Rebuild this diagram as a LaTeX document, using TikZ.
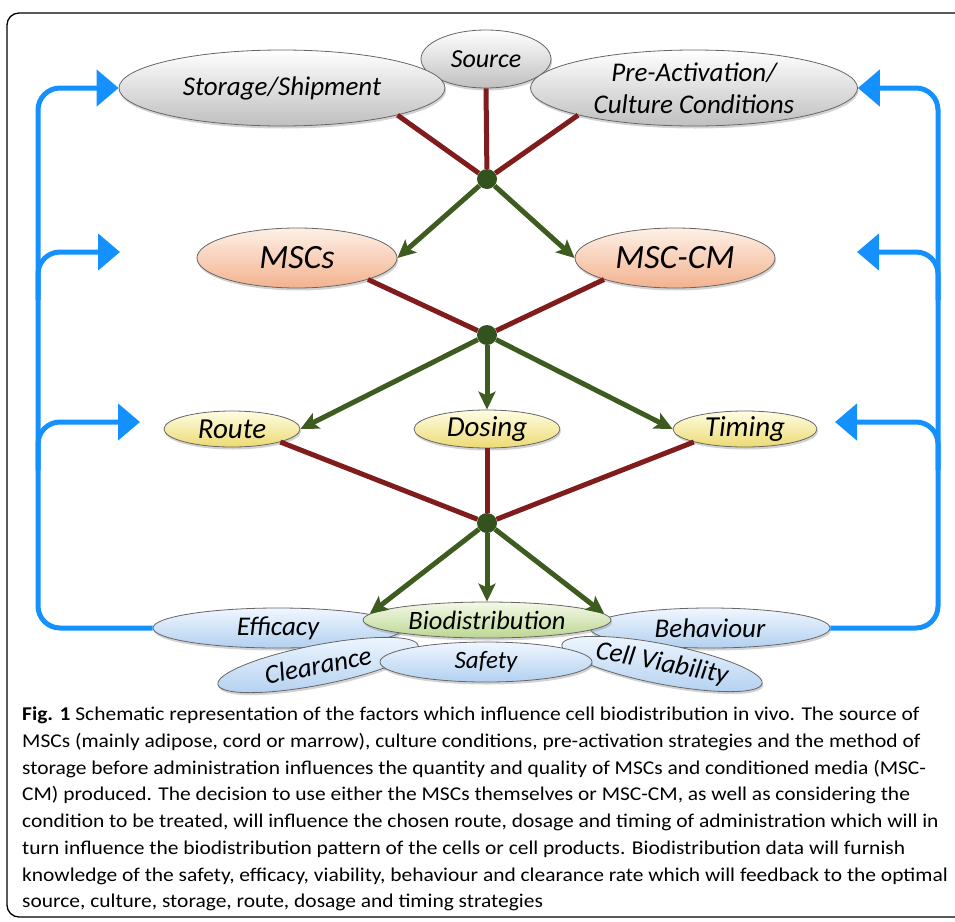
\documentclass[tikz,border=0pt]{standalone}
\usepackage{fontspec}
\setmainfont{Carlito}
\newfontfamily\capfont[FakeStretch=1.1]{Carlito}
\usetikzlibrary{shapes.geometric,arrows.meta,shadows}
\definecolor{linkred}{RGB}{128,28,28}
\definecolor{flowgreen}{RGB}{62,92,32}
\definecolor{hubgreen}{RGB}{50,82,30}
\definecolor{feedblue}{RGB}{20,145,255}
\definecolor{peachtop}{RGB}{254,240,230}
\definecolor{peachbot}{RGB}{242,178,142}
\definecolor{lemontop}{RGB}{255,253,228}
\definecolor{lemonbot}{RGB}{236,218,115}
\definecolor{skytop}{RGB}{240,247,255}
\definecolor{skybot}{RGB}{178,208,240}
\definecolor{leaftop}{RGB}{244,249,232}
\definecolor{leafbot}{RGB}{188,214,145}

\begin{document}
\begin{tikzpicture}[x=1pt,y=-1pt,
pill/.style={ellipse,draw=black!60,line width=0.8pt,inner sep=-9pt,align=center,
  drop shadow={opacity=0.35,shadow xshift=1pt,shadow yshift=-2.5pt},
  font=\itshape\fontsize{27}{32}\selectfont},
grey/.style={pill,top color=white,bottom color=black!25},
peach/.style={pill,top color=peachtop,bottom color=peachbot,font=\itshape\fontsize{34}{40}\selectfont},
lemon/.style={pill,top color=lemontop,bottom color=lemonbot,font=\itshape\fontsize{29}{34}\selectfont},
sky/.style={pill,top color=skytop,bottom color=skybot},
leaf/.style={pill,top color=leaftop,bottom color=leafbot,font=\itshape\fontsize{26.5}{30}\selectfont},
hub/.style={circle,fill=hubgreen,inner sep=0pt,minimum size=20pt},
link/.style={linkred,line width=5pt},
flow/.style={flowgreen,line width=5pt,-{Stealth[length=18pt,width=17pt,inset=4pt]}},
feed/.style={feedblue,line width=5pt,rounded corners=22pt,-{Triangle[length=22pt,width=36pt]}}]
\useasboundingbox (0,0) rectangle (955,921);
\draw[line width=1.3pt,rounded corners=12pt] (7,13) rectangle (985,917);

\node[grey,minimum width=130pt,minimum height=58pt,font=\itshape\fontsize{26}{30}\selectfont] at (486,59) (src) {Source};
\node[grey,minimum width=326pt,minimum height=76pt] at (282,88) (stor) {Storage/Shipment};
\node[grey,minimum width=327pt,minimum height=76pt] at (694,88) (pre) {Pre-Activation/\\Culture Conditions};
\node[hub] at (487,179) (j1) {};

\node[peach,minimum width=200pt,minimum height=60pt] at (297,258) (msc) {MSCs};
\node[peach,minimum width=200pt,minimum height=60pt] at (675,258) (cm) {MSC-CM};
\node[hub] at (487,335) (j2) {};

\node[lemon,minimum width=136pt,minimum height=36pt] at (232,429) (route) {Route};
\node[lemon,minimum width=146pt,minimum height=38pt] at (487,429) (dose) {Dosing};
\node[lemon,minimum width=144pt,minimum height=36pt] at (745,429) (time) {Timing};
\node[hub] at (487,523) (j3) {};

\node[sky,minimum width=250pt,minimum height=40pt] at (278,628) (eff) {Efficacy};
\node[sky,minimum width=240pt,minimum height=40pt] at (710,628) (beh) {Behaviour};
\node[sky,minimum width=204pt,minimum height=40pt,rotate=11] at (318,665) (clr) {Clearance};
\node[sky,minimum width=204pt,minimum height=40pt,rotate=-11] at (662,664) (via) {Cell Viability};
\node[sky,minimum width=212pt,minimum height=40pt,font=\itshape\fontsize{25}{30}\selectfont] at (486,662) (saf) {Safety};
\node[leaf,minimum width=248pt,minimum height=36pt] at (487,620) (bio) {Biodistribution};

\draw[link] (stor.south east) -- (j1);
\draw[link] (src.south) -- (j1);
\draw[link] (pre.south west) -- (j1);
\draw[flow] (j1) -- (msc.east);
\draw[flow] (j1) -- (cm.west);
\draw[link] (msc.south east) -- (j2);
\draw[link] (cm.south west) -- (j2);
\draw[flow] (j2) -- (route.east);
\draw[flow] (j2) -- (dose.north);
\draw[flow] (j2) -- (time.west);
\draw[link] (route.south east) -- (j3);
\draw[link] (dose.south) -- (j3);
\draw[link] (time.south west) -- (j3);
\draw[flow] (j3) -- (bio.177);
\draw[flow] (j3) -- (bio.north);
\draw[flow] (j3) -- (bio.3);

\coordinate (lftA) at (120,252);
\coordinate (lftB) at (140,422);
\coordinate (rgtA) at (857,252);
\coordinate (rgtB) at (835,422);
\coordinate (splA) at (38,300);
\coordinate (splB) at (38,470);
\coordinate (sprA) at (938,300);
\coordinate (sprB) at (938,470);

\draw[feed] (eff.west) -| (38,88) -- (stor.west);
\draw[feed] (splA) |- (lftA);
\draw[feed] (splB) |- (lftB);
\draw[feed] (beh.east) -| (938,88) -- (pre.east);
\draw[feed] (sprA) |- (rgtA);
\draw[feed] (sprB) |- (rgtB);

\node[anchor=north west,inner sep=0pt,align=left,font=\capfont\fontsize{19.5}{26.7}\selectfont] at (22,707) (cap) {\textbf{Fig. 1} Schematic representation of the factors which influence cell biodistribution in vivo. The source of\\
MSCs (mainly adipose, cord or marrow), culture conditions, pre-activation strategies and the method of\\
storage before administration influences the quantity and quality of MSCs and conditioned media (MSC-\\
CM) produced. The decision to use either the MSCs themselves or MSC-CM, as well as considering the\\
condition to be treated, will influence the chosen route, dosage and timing of administration which will in\\
turn influence the biodistribution pattern of the cells or cell products. Biodistribution data will furnish\\
knowledge of the safety, efficacy, viability, behaviour and clearance rate which will feedback to the optimal\\
source, culture, storage, route, dosage and timing strategies};
\end{tikzpicture}
\end{document}
